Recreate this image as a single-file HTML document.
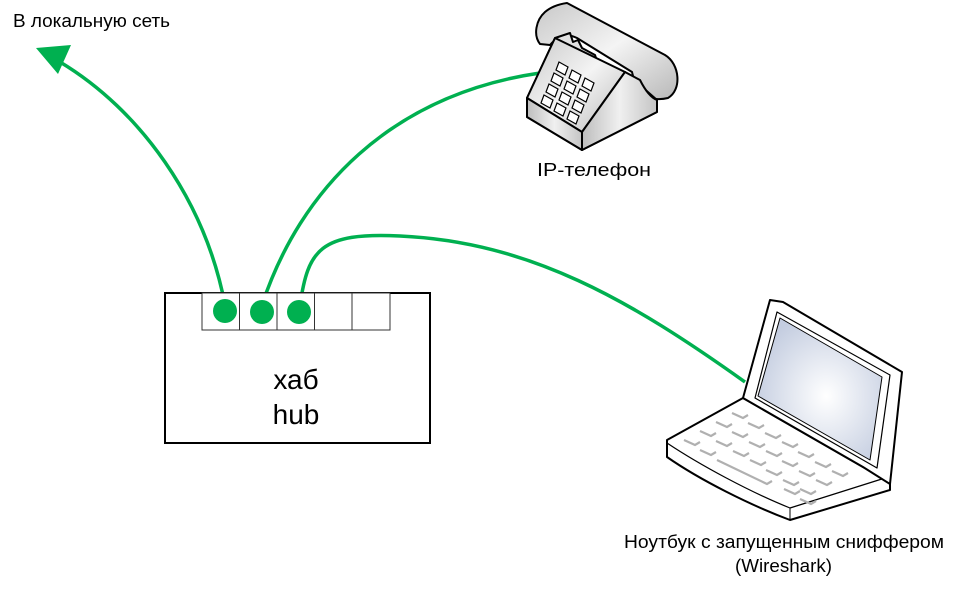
<!DOCTYPE html>
<html><head><meta charset="utf-8"><style>
html,body{margin:0;padding:0;background:#fff;}
svg{display:block;}
text{font-family:"Liberation Sans","DejaVu Sans",sans-serif;fill:#000;}
</style></head><body>
<svg width="961" height="590" viewBox="0 0 961 590" xmlns="http://www.w3.org/2000/svg">
<defs>
<linearGradient id="g1" x1="0" y1="0" x2="1" y2="1"><stop offset="0" stop-color="#c8c8c8"/><stop offset="0.5" stop-color="#f4f4f4"/><stop offset="1" stop-color="#b8b8b8"/></linearGradient>
<linearGradient id="g2" x1="0" y1="0" x2="1" y2="0"><stop offset="0" stop-color="#bdbdbd"/><stop offset="0.5" stop-color="#f0f0f0"/><stop offset="1" stop-color="#c4c4c4"/></linearGradient>
<radialGradient id="scr" cx="0.55" cy="0.55" r="0.6"><stop offset="0" stop-color="#ffffff"/><stop offset="1" stop-color="#c4cde0"/></radialGradient>
</defs>
<text x="13" y="27" font-size="18" textLength="157" lengthAdjust="spacingAndGlyphs">В локальную сеть</text>
<!-- cables -->
<g fill="none" stroke="#00b050" stroke-width="3.5">
<path d="M225,305 C205,200 140,110 60,62"/>
<path d="M262,305 C300,190 390,95 540,73"/>
<path d="M300,305 C308,250 320,232 400,236 C530,242 630,300 745,382"/>
</g>
<polygon points="36,48 71,45 58,74" fill="#00b050"/>
<!-- hub -->
<rect x="165" y="293" width="265" height="150" fill="#fff" stroke="#000" stroke-width="2"/>
<g fill="#fff" stroke="#333" stroke-width="1">
<rect x="202" y="293" width="37.5" height="37"/><rect x="239.5" y="293" width="37.5" height="37"/><rect x="277" y="293" width="37.5" height="37"/><rect x="314.5" y="293" width="37.5" height="37"/><rect x="352" y="293" width="38" height="37"/>
</g>
<g fill="#00b050"><circle cx="225" cy="311" r="12"/><circle cx="262" cy="312" r="12"/><circle cx="299" cy="312" r="12"/></g>
<text x="296" y="389" font-size="28" text-anchor="middle">хаб</text>
<text x="296" y="424" font-size="28" text-anchor="middle">hub</text>
<!-- phone -->
<g stroke="#000" stroke-width="2" stroke-linejoin="round">
<path d="M567,3 L665,55 C680,64 682,90 668,98 C660,100 652,99 648,97 C636,90 634,80 632,72 L577,38 C565,32 556,38 550,45 L540,44 C533,35 536,20 545,12 C552,6 560,4 567,3 Z" fill="url(#g1)"/>
<path d="M555,38 L570,33 L573,42 L578,40 L582,48 L595,55 L598,64 L603,62 L606,70 L625,72 L657,100 L657,112 L582,150 L527,117 L527,98 Z" fill="#e2e2e2"/>
<path d="M527,98 L555,38 L625,72 L582,132 Z" fill="url(#g1)"/>
<path d="M582,132 L625,72 L640,80 C646,92 652,98 657,100 L657,112 L582,150 Z" fill="url(#g2)"/>
<path d="M527,98 L582,132 L582,150 L527,117 Z" fill="url(#g2)"/>
</g>
<g fill="#fff" stroke="#000" stroke-width="1.2">
<path d="M559,62 l9,5 l-3,8 l-9,-5 Z"/><path d="M572,70 l9,5 l-3,8 l-9,-5 Z"/><path d="M585,78 l9,5 l-3,8 l-9,-5 Z"/>
<path d="M554,73 l9,5 l-3,8 l-9,-5 Z"/><path d="M567,81 l9,5 l-3,8 l-9,-5 Z"/><path d="M580,89 l9,5 l-3,8 l-9,-5 Z"/>
<path d="M549,84 l9,5 l-3,8 l-9,-5 Z"/><path d="M562,92 l9,5 l-3,8 l-9,-5 Z"/><path d="M575,100 l9,5 l-3,8 l-9,-5 Z"/>
<path d="M544,95 l9,5 l-3,8 l-9,-5 Z"/><path d="M557,103 l9,5 l-3,8 l-9,-5 Z"/><path d="M570,111 l9,5 l-3,8 l-9,-5 Z"/>
</g>
<text x="537" y="176" font-size="18" textLength="114" lengthAdjust="spacingAndGlyphs">IP-телефон</text>
<!-- laptop -->
<g stroke="#000" stroke-width="2" stroke-linejoin="round">
<path d="M743,398 L667,440 L667,457 C700,480 750,505 790,520 L890,490 L890,475 L863,467 Z" fill="#fff"/>
<path d="M667,443 C700,465 750,492 790,508 L885,478" fill="none" stroke-width="1.2"/>
<path d="M790,508 L790,520" fill="none" stroke-width="1"/>
<path d="M743,398 L770,300 L783,302 L902,372 L890,484 L863,467 Z" fill="#fff"/>
<path d="M777,312 L890,375 L877,468 L755,398 Z" fill="#fff" stroke-width="1.2"/>
<path d="M780,318 L882,377 L870,460 L758,396 Z" fill="url(#scr)" stroke-width="1"/>
</g>
<g stroke="#b0b0b0" stroke-width="2.2" fill="none">
<path d="M732,413 l11,5 l5,-3 M748,423 l11,5 l5,-3 M765,433 l11,5 l5,-3 M782,442 l11,5 l5,-3 M798,452 l11,5 l5,-3 M815,462 l11,5 l5,-3 M832,471 l11,5 l5,-3"/>
<path d="M716,422 l11,5 l5,-3 M732,432 l11,5 l5,-3 M749,442 l11,5 l5,-3 M766,451 l11,5 l5,-3 M782,461 l11,5 l5,-3 M799,471 l11,5 l5,-3 M816,480 l11,5 l5,-3"/>
<path d="M700,431 l11,5 l5,-3 M716,441 l11,5 l5,-3 M733,451 l11,5 l5,-3 M750,460 l11,5 l5,-3 M766,470 l11,5 l5,-3 M783,480 l11,5 l5,-3 M800,489 l11,5 l5,-3"/>
<path d="M684,440 l11,5 l5,-3 M700,450 l11,5 l5,-3 M717,460 l50,24 l5,-3 M784,489 l11,5 l5,-3 M800,499 l11,5 l5,-3"/>
</g>
<text x="624" y="548" font-size="18" textLength="320" lengthAdjust="spacingAndGlyphs">Ноутбук с запущенным сниффером</text>
<text x="735" y="572" font-size="18" textLength="97" lengthAdjust="spacingAndGlyphs">(Wireshark)</text>
</svg>
</body></html>
